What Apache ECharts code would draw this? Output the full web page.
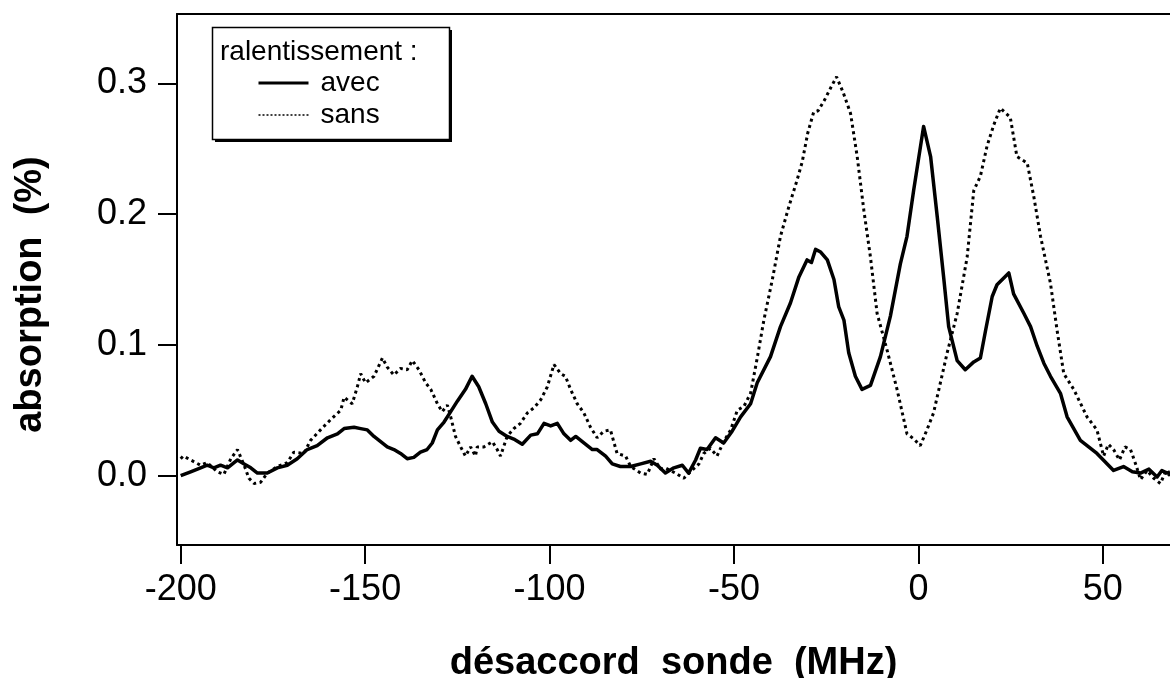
<!DOCTYPE html>
<html>
<head>
<meta charset="utf-8">
<script src="https://cdn.jsdelivr.net/npm/echarts@6/dist/echarts.min.js"></script>
<style>
  html, body { margin: 0; padding: 0; background: #fff; }
  #chart { width: 1170px; height: 678px; }
</style>
</head>
<body>
<div id="chart"></div>
<script>
// Probe detuning (MHz) and absorption (%) — with slowing ("avec")
const avecX = [-200.0,-197.3,-194.6,-192.8,-191.0,-189.2,-187.3,-184.6,-182.8,-181.0,-179.2,-176.5,-173.8,-171.1,-168.4,-165.7,-163.0,-160.2,-157.5,-155.7,-153.0,-151.2,-149.4,-147.6,-145.8,-144.0,-142.2,-140.4,-138.6,-136.8,-135.0,-133.2,-131.8,-130.4,-128.6,-126.8,-125.0,-122.8,-121.0,-119.2,-117.3,-115.5,-113.7,-111.5,-109.7,-107.4,-105.1,-103.3,-101.5,-99.7,-97.9,-96.1,-94.3,-92.9,-90.7,-88.4,-87.1,-84.8,-83.0,-80.8,-78.0,-75.3,-72.6,-70.8,-68.6,-66.3,-64.0,-62.3,-60.4,-59.1,-57.3,-55.0,-52.8,-50.5,-48.2,-45.5,-43.7,-40.1,-37.4,-34.7,-32.4,-30.2,-29.0,-27.9,-26.5,-24.7,-22.9,-21.6,-20.2,-18.9,-17.1,-15.3,-13.0,-10.3,-7.6,-4.9,-3.1,-1.3,1.4,3.3,5.1,6.9,8.2,10.5,12.7,15.0,16.8,18.2,20.0,21.3,24.5,25.8,28.6,30.4,32.2,34.0,35.8,38.5,40.3,43.9,48.4,52.9,55.6,58.0,60.2,62.5,64.7,66.0,67.4,68.2];
const avecY = [0.000,0.003,0.006,0.008,0.006,0.008,0.006,0.012,0.009,0.006,0.002,0.002,0.006,0.008,0.013,0.020,0.023,0.029,0.032,0.036,0.037,0.036,0.035,0.030,0.026,0.022,0.020,0.017,0.013,0.014,0.018,0.020,0.025,0.035,0.041,0.049,0.057,0.066,0.076,0.068,0.055,0.041,0.034,0.030,0.028,0.024,0.031,0.032,0.040,0.038,0.040,0.032,0.027,0.030,0.025,0.020,0.020,0.015,0.009,0.007,0.007,0.009,0.011,0.008,0.002,0.006,0.008,0.002,0.012,0.021,0.020,0.029,0.025,0.034,0.045,0.055,0.071,0.091,0.114,0.132,0.152,0.165,0.163,0.173,0.171,0.165,0.150,0.129,0.119,0.094,0.076,0.066,0.069,0.091,0.122,0.162,0.183,0.218,0.267,0.244,0.198,0.150,0.114,0.088,0.081,0.087,0.090,0.111,0.137,0.146,0.155,0.139,0.124,0.114,0.099,0.086,0.076,0.063,0.045,0.027,0.017,0.004,0.007,0.003,0.002,0.005,-0.001,0.004,0.002,0.003];

// Without slowing ("sans")
const sansX = [-200.0,-199.3,-197.3,-194.6,-192.8,-190.1,-188.3,-186.4,-184.6,-182.8,-181.5,-180.1,-178.3,-176.5,-173.8,-171.1,-169.3,-166.6,-164.8,-162.1,-159.3,-156.6,-155.7,-153.5,-152.1,-151.2,-149.9,-147.6,-145.3,-144.0,-142.2,-140.4,-138.6,-137.2,-135.4,-133.6,-132.2,-130.4,-129.1,-127.7,-126.8,-125.5,-124.1,-122.8,-121.4,-120.1,-119.6,-117.8,-115.5,-114.2,-113.3,-111.5,-109.7,-107.9,-106.0,-104.2,-102.4,-100.6,-98.8,-97.0,-95.7,-94.3,-92.5,-90.7,-88.9,-87.1,-85.3,-83.5,-83.0,-81.7,-79.4,-78.0,-75.3,-73.5,-71.7,-69.9,-68.6,-65.9,-63.6,-61.8,-59.5,-58.2,-56.4,-54.6,-52.8,-50.9,-49.1,-47.3,-45.5,-43.7,-41.9,-39.6,-37.4,-35.2,-32.9,-31.5,-30.0,-28.4,-27.2,-25.5,-23.7,-22.2,-20.4,-18.4,-16.6,-14.8,-13.0,-11.2,-8.5,-5.8,-3.1,-1.2,0.5,2.3,4.1,7.8,10.5,13.2,15.0,16.8,18.6,20.4,22.2,24.9,26.7,29.5,31.3,33.1,35.8,37.6,39.4,42.1,45.7,48.4,50.2,51.5,52.9,54.5,56.0,57.5,59.0,60.2,62.0,63.8,65.6,67.0,68.2];
const sansY = [0.013,0.015,0.012,0.008,0.010,0.003,0.001,0.013,0.020,0.008,-0.002,-0.006,-0.005,0.002,0.007,0.010,0.018,0.017,0.027,0.035,0.043,0.050,0.060,0.055,0.068,0.078,0.071,0.076,0.090,0.083,0.077,0.082,0.081,0.088,0.081,0.071,0.066,0.055,0.049,0.054,0.045,0.030,0.022,0.015,0.022,0.015,0.022,0.022,0.026,0.020,0.015,0.030,0.036,0.040,0.048,0.052,0.058,0.068,0.085,0.078,0.076,0.066,0.055,0.048,0.037,0.029,0.034,0.035,0.030,0.017,0.015,0.007,0.002,0.001,0.013,0.005,0.006,0.002,-0.002,0.003,0.009,0.017,0.021,0.015,0.026,0.035,0.050,0.053,0.063,0.090,0.119,0.150,0.183,0.205,0.226,0.240,0.262,0.278,0.279,0.287,0.297,0.305,0.293,0.277,0.244,0.203,0.167,0.124,0.096,0.066,0.032,0.028,0.023,0.035,0.048,0.094,0.124,0.167,0.218,0.229,0.252,0.268,0.281,0.274,0.244,0.239,0.213,0.183,0.147,0.111,0.078,0.066,0.045,0.035,0.015,0.024,0.020,0.012,0.022,0.020,0.008,-0.003,0.004,-0.002,-0.006,0.003,0.000];

// Axis ticks
const xTicks = [-200, -150, -100, -50, 0, 50];
const yTicks = [0.0, 0.1, 0.2, 0.3];

const zip = (xs, ys) => xs.map((x, i) => [x, ys[i]]);
const FONT = '"Liberation Sans", Arial, Helvetica, sans-serif';

const chart = echarts.init(document.getElementById('chart'), null, { renderer: 'canvas' });

chart.setOption({
  backgroundColor: '#ffffff',
  animation: false,
  grid: { left: 177, top: 14, right: 0, bottom: 133, containLabel: false, outerBoundsMode: 'none' },
  xAxis: [
    {
      type: 'value',
      min: -201,
      max: 68.2,
      position: 'bottom',
      name: 'désaccord  sonde  (MHz)',
      nameLocation: 'middle',
      nameGap: 100,
      nameTextStyle: { fontFamily: FONT, fontSize: 38, fontWeight: 'bold', color: '#000' },
      axisLine: { show: true, onZero: false, lineStyle: { color: '#000', width: 2 } },
      axisTick: { show: true, inside: false, length: 19, customValues: xTicks, lineStyle: { color: '#000', width: 2 } },
      axisLabel: { show: true, margin: 27, customValues: xTicks, fontFamily: FONT, fontSize: 36, color: '#000', formatter: v => String(v) },
      splitLine: { show: false }
    },
    {
      // top frame line
      type: 'value',
      min: -201,
      max: 68.2,
      position: 'top',
      axisLine: { show: true, onZero: false, lineStyle: { color: '#000', width: 2 } },
      axisTick: { show: false },
      axisLabel: { show: false },
      splitLine: { show: false }
    }
  ],
  yAxis: {
    type: 'value',
    min: -0.053,
    max: 0.353,
    position: 'left',
    name: 'absorption  (%)',
    nameLocation: 'middle',
    nameRotate: 90,
    nameGap: 127,
    nameTextStyle: { fontFamily: FONT, fontSize: 38, fontWeight: 'bold', color: '#000', padding: [0, 30, 0, 0] },
    axisLine: { show: true, onZero: false, lineStyle: { color: '#000', width: 2 } },
    axisTick: { show: true, inside: false, length: 19, customValues: yTicks, lineStyle: { color: '#000', width: 2 } },
    axisLabel: { show: true, margin: 30, customValues: yTicks, fontFamily: FONT, fontSize: 36, color: '#000', formatter: v => v.toFixed(1) },
    splitLine: { show: false }
  },
  legend: {
    data: [
      { name: 'avec', lineStyle: { width: 3 } },
      { name: 'sans', lineStyle: { width: 1.6, type: [2, 2] } }
    ],
    orient: 'vertical',
    left: 257,
    top: 69,
    itemWidth: 50,
    itemHeight: 12,
    itemGap: 4,
    padding: 0,
    z: 10,
    itemStyle: { opacity: 0 },
    textStyle: { fontFamily: FONT, fontSize: 28, color: '#000', padding: [0, 0, 0, 7] }
  },
  graphic: [
    {
      // legend frame drop shadow
      type: 'rect',
      z: 5,
      shape: { x: 215, y: 30, width: 237, height: 112 },
      style: { fill: '#000' }
    },
    {
      type: 'rect',
      z: 6,
      shape: { x: 212.5, y: 27.5, width: 237, height: 112 },
      style: { fill: '#fff', stroke: '#000', lineWidth: 1.5 }
    },
    {
      type: 'text',
      z: 7,
      x: 220,
      y: 52,
      style: { text: 'ralentissement :', fontFamily: FONT, fontSize: 28, fill: '#000', verticalAlign: 'middle' }
    }
  ],
  series: [
    {
      name: 'avec',
      type: 'line',
      data: zip(avecX, avecY),
      showSymbol: false,
      symbol: 'none',
      lineStyle: { color: '#000', width: 3.5, type: 'solid', join: 'round' },
      itemStyle: { color: '#000' },
      z: 3
    },
    {
      name: 'sans',
      type: 'line',
      data: zip(sansX, sansY),
      showSymbol: false,
      symbol: 'none',
      lineStyle: { color: '#000', width: 3, type: [3, 3.5] },
      itemStyle: { color: '#000' },
      z: 2
    }
  ]
});
</script>
</body>
</html>
